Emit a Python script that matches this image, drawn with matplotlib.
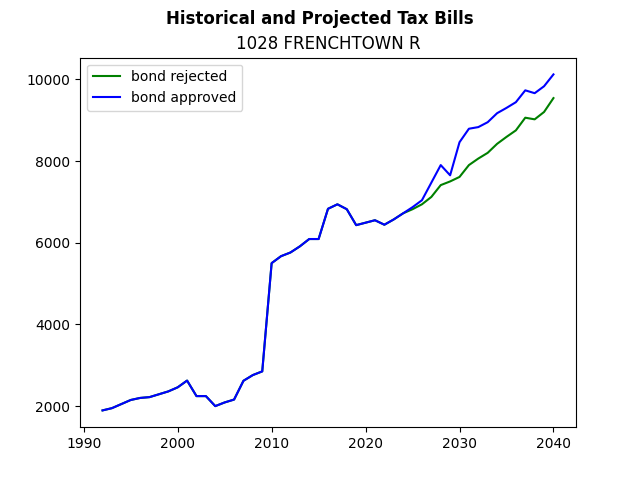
import matplotlib
matplotlib.use('Agg')
import matplotlib.pyplot as plt

years = list(range(1992, 2041))

# history shared by both scenarios (1992-2024)
history = [1895, 1950, 2050, 2150, 2200, 2220, 2290, 2360, 2460, 2625,
           2245, 2245, 2000, 2090, 2160, 2620, 2760, 2850, 5500, 5670,
           5760, 5910, 6090, 6090, 6830, 6940, 6820, 6430, 6490, 6550,
           6440, 6570, 6720]

# projections 2025-2040
rejected_proj = [6820, 6940, 7120, 7410, 7500, 7610, 7900, 8060, 8200,
                 8420, 8590, 8750, 9060, 9020, 9200, 9540]
approved_proj = [6870, 7040, 7470, 7900, 7650, 8460, 8790, 8830, 8950,
                 9170, 9300, 9440, 9730, 9660, 9830, 10120]

bond_rejected = history + rejected_proj
bond_approved = history + approved_proj

fig, ax = plt.subplots(figsize=(6.4, 4.8), dpi=100)
ax.plot(years, bond_rejected, color='green', label='bond rejected')
ax.plot(years, bond_approved, color='blue', label='bond approved')
fig.suptitle('Historical and Projected Tax Bills', fontweight='bold')
ax.set_title('1028 FRENCHTOWN R')
ax.legend(loc='upper left')

fig.savefig('out.png')
